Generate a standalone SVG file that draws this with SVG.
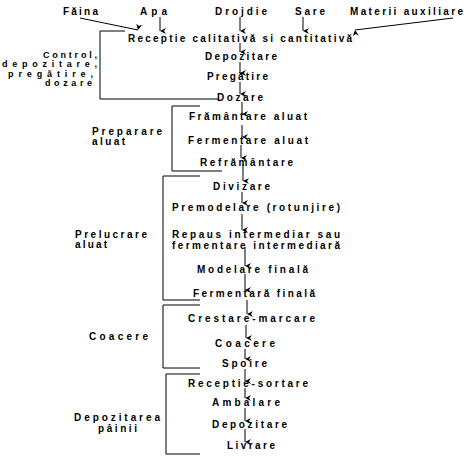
<svg xmlns="http://www.w3.org/2000/svg" width="474" height="462" viewBox="0 0 474 462">
<style>
text{font-family:"Liberation Sans",Arial,sans-serif;font-weight:bold;font-size:10px;fill:#000}
text.s{font-size:9px}
.c line,.b polyline{stroke:#000;stroke-width:1;fill:none}
.c line.a{marker-end:url(#ah)}
</style>
<defs>
<marker id="ah" viewBox="0 0 6 6" refX="3" refY="6" markerWidth="6" markerHeight="6" markerUnits="userSpaceOnUse" orient="auto-start-reverse">
<path d="M0,0 L3,6 L6,0 L3,2 Z" fill="#000"/>
</marker>
</defs>
<rect width="474" height="462" fill="#fff"/>
<g id="inputs">
<text x="63" y="15" textLength="35" lengthAdjust="spacing">Făina</text>
<text x="140" y="15" textLength="27" lengthAdjust="spacing">Apa</text>
<text x="215" y="15" textLength="52" lengthAdjust="spacing">Drojdie</text>
<text x="295" y="15" textLength="30" lengthAdjust="spacing">Sare</text>
<text x="350" y="15" textLength="113" lengthAdjust="spacing">Materii auxiliare</text>
</g>
<g id="n-receptie"><text x="128" y="42" textLength="224" lengthAdjust="spacing">Receptie calitativă si cantitativă</text></g>
<g id="n-depozitare1"><text x="205" y="60" textLength="72" lengthAdjust="spacing">Depozitare</text></g>
<g id="n-pregatire"><text x="207" y="80" textLength="61" lengthAdjust="spacing">Pregătire</text></g>
<g id="n-dozare"><text x="217" y="101" textLength="46" lengthAdjust="spacing">Dozare</text></g>
<g id="n-framantare"><text x="189" y="120" textLength="118" lengthAdjust="spacing">Frământare aluat</text></g>
<g id="n-fermentare"><text x="188" y="144" textLength="120" lengthAdjust="spacing">Fermentare aluat</text></g>
<g id="n-reframantare"><text x="200" y="166" textLength="93" lengthAdjust="spacing">Refrământare</text></g>
<g id="n-divizare"><text x="213" y="190" textLength="57" lengthAdjust="spacing">Divizare</text></g>
<g id="n-premodelare"><text x="172" y="211" textLength="168" lengthAdjust="spacing">Premodelare (rotunjire)</text></g>
<g id="n-repaus">
<text x="172" y="238" textLength="168" lengthAdjust="spacing">Repaus intermediar sau</text>
<text x="172" y="249" textLength="168" lengthAdjust="spacing">fermentare intermediară</text>
</g>
<g id="n-modelare"><text x="197" y="273" textLength="111" lengthAdjust="spacing">Modelare finală</text></g>
<g id="n-fermfinala"><text x="193" y="297" textLength="122" lengthAdjust="spacing">Fermentară finală</text></g>
<g id="n-crestare"><text x="188" y="322" textLength="127" lengthAdjust="spacing">Crestare-marcare</text></g>
<g id="n-coacere"><text x="215" y="347" textLength="60" lengthAdjust="spacing">Coacere</text></g>
<g id="n-spoire"><text x="222" y="367" textLength="45" lengthAdjust="spacing">Spoire</text></g>
<g id="n-receptie2"><text x="188" y="387" textLength="120" lengthAdjust="spacing">Receptie-sortare</text></g>
<g id="n-ambalare"><text x="212" y="406" textLength="68" lengthAdjust="spacing">Ambalare</text></g>
<g id="n-depozitare2"><text x="212" y="428" textLength="75" lengthAdjust="spacing">Depozitare</text></g>
<g id="n-livrare"><text x="227" y="449" textLength="48" lengthAdjust="spacing">Livrare</text></g>
<g id="phase-control">
<text class="s" x="43" y="58" textLength="54" lengthAdjust="spacing">Control,</text>
<text class="s" x="2" y="67" textLength="95" lengthAdjust="spacing">depozitare,</text>
<text class="s" x="8" y="77" textLength="85" lengthAdjust="spacing">pregătire,</text>
<text class="s" x="45" y="86" textLength="47" lengthAdjust="spacing">dozare</text>
</g>
<g id="phase-preparare">
<text x="92" y="135" textLength="70" lengthAdjust="spacing">Preparare</text>
<text x="92" y="145" textLength="33" lengthAdjust="spacing">aluat</text>
</g>
<g id="phase-prelucrare">
<text x="75" y="238" textLength="72" lengthAdjust="spacing">Prelucrare</text>
<text x="75" y="248" textLength="32" lengthAdjust="spacing">aluat</text>
</g>
<g id="phase-coacere"><text x="89" y="340" textLength="59" lengthAdjust="spacing">Coacere</text></g>
<g id="phase-depozitarea">
<text x="74" y="421" textLength="86" lengthAdjust="spacing">Depozitarea</text>
<text x="98" y="432" textLength="39" lengthAdjust="spacing">pâinii</text>
</g>
<g id="brackets" class="b">
<polyline points="125,31 100,31 100,99 218,99"/>
<polyline points="200,106 172,106 172,171 222,171"/>
<polyline points="200,176 163,176 163,300 200,300"/>
<polyline points="200,305 163,305 163,368 200,368"/>
<polyline points="200,374 166,374 166,454 200,454"/>
</g>
<g id="connectors" class="c">
<line class="a" x1="80" y1="18" x2="138" y2="30"/>
<line class="a" x1="160" y1="17" x2="160" y2="31"/>
<line class="a" x1="240" y1="17" x2="240" y2="31"/>
<line class="a" x1="303" y1="17" x2="303" y2="31"/>
<line class="a" x1="453" y1="18" x2="355" y2="30"/>
<line class="a" x1="240" y1="43" x2="240" y2="52"/>
<line class="a" x1="240" y1="62" x2="240" y2="73"/>
<line class="a" x1="240" y1="82" x2="240" y2="94"/>
<line class="a" x1="242" y1="102" x2="242" y2="114"/>
<line class="a" x1="242" y1="125" x2="242" y2="137"/>
<line class="a" x1="241" y1="145" x2="241" y2="158"/>
<line class="a" x1="243" y1="164" x2="243" y2="181"/>
<line class="a" x1="242" y1="192" x2="242" y2="203"/>
<line class="a" x1="242" y1="214" x2="242" y2="230"/>
<line class="a" x1="245" y1="247" x2="245" y2="266"/>
<line class="a" x1="245" y1="274" x2="245" y2="290"/>
<line class="a" x1="247" y1="300" x2="247" y2="314"/>
<line class="a" x1="246" y1="325" x2="246" y2="338"/>
<line class="a" x1="245" y1="349" x2="245" y2="359"/>
<line class="a" x1="245" y1="369" x2="245" y2="381"/>
<line class="a" x1="245" y1="388" x2="245" y2="398"/>
<line class="a" x1="245" y1="408" x2="245" y2="421"/>
<line class="a" x1="245" y1="429" x2="245" y2="442"/>
</g>
</svg>
